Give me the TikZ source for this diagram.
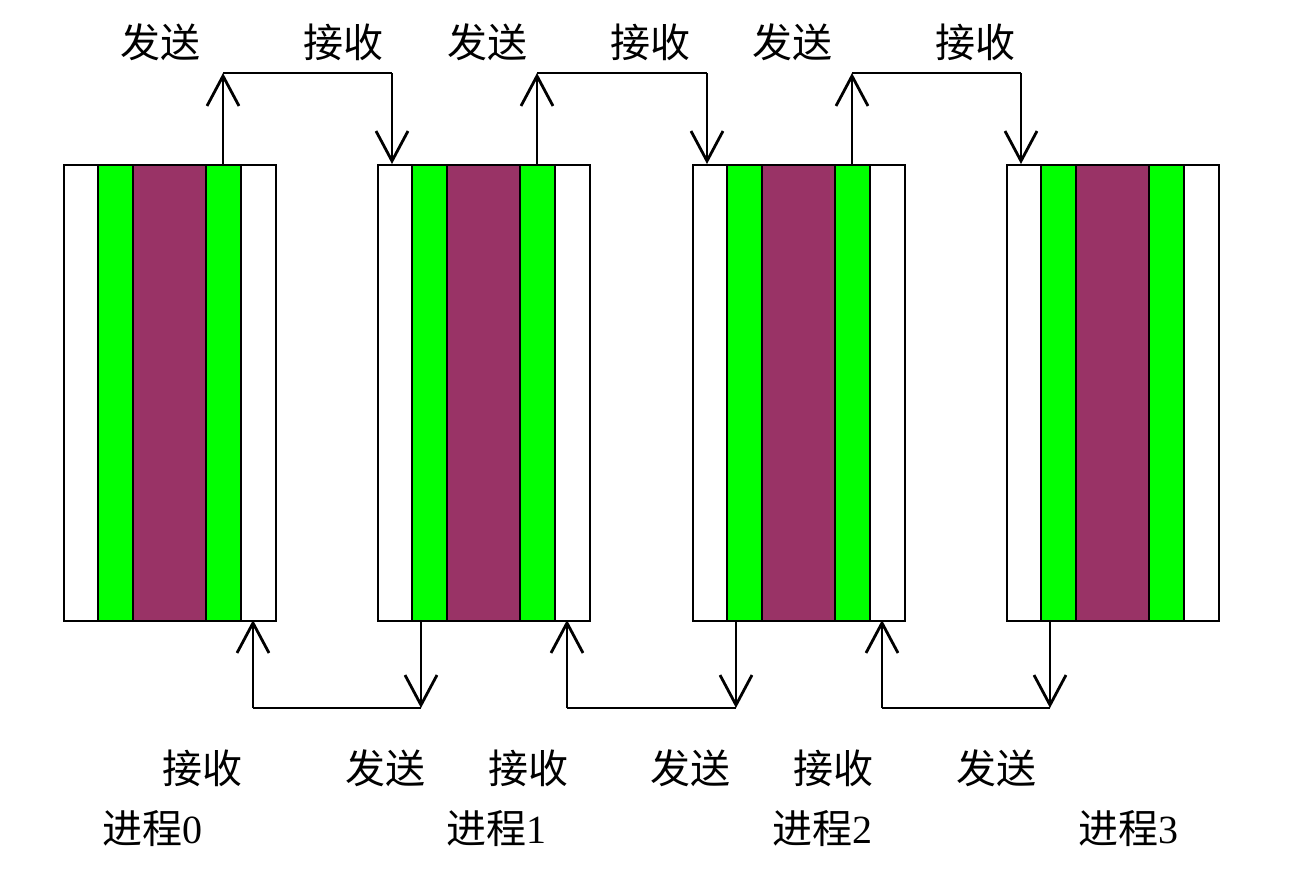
\documentclass[tikz,border=0pt]{standalone}
\usepackage{fontspec}
\setmainfont{Liberation Serif}
\newfontfamily\cjk{Noto Sans CJK SC}
\usetikzlibrary{arrows.meta}
\definecolor{colgreen}{HTML}{00FF00}
\definecolor{colmaroon}{HTML}{993366}
\tikzset{
  conn/.style={line width=2.8pt, black},
  arr/.style={conn, -{Straight Barb[length=30pt,width=32pt,line width=2.8pt]}},
  lbl/.style={font=\cjk\fontsize{40}{46}\selectfont, inner sep=0pt},
  boxline/.style={line width=2.4pt, black}
}
\begin{document}
\begin{tikzpicture}[x=1pt,y=-1pt]
\useasboundingbox (0,0) rectangle (1299,881);
\fill[white] (0,0) rectangle (1299,881);
% boxes
\foreach \L [count=\i from 0] in {63,377,692,1006} {
  \fill[colgreen] (\L+35,164) rectangle (\L+70,620);
  \fill[colmaroon] (\L+70,164) rectangle (\L+143,620);
  \fill[colgreen] (\L+143,164) rectangle (\L+178,620);
  \node[boxline, draw, rectangle, minimum width=212pt, minimum height=456pt, inner sep=0pt, anchor=north west] (p\i) at (\L,164) {};
  \foreach \o in {35,70,143,178} { \draw[boxline] (\L+\o,164) -- (\L+\o,620); }
  \coordinate (ts\i) at (\L+160,164);
  \coordinate (tr\i) at (\L+15,164);
  \coordinate (bs\i) at (\L+190,620);
  \coordinate (br\i) at (\L+44,620);
}
% top connectors
\foreach \a/\b in {0/1,1/2,2/3} {
  \coordinate (tc\a) at ([yshift=91pt]ts\a);
  \coordinate (td\a) at ([yshift=91pt]tr\b);
  \draw[arr] (ts\a) -- (tc\a);
  \draw[conn] (tc\a) -- (td\a);
  \draw[arr] (td\a) -- (tr\b);
}
% bottom connectors
\foreach \a/\b in {0/1,1/2,2/3} {
  \coordinate (bc\a) at ([yshift=-88pt]bs\a);
  \coordinate (bd\a) at ([yshift=-88pt]br\b);
  \draw[arr] (bc\a) -- (bs\a);
  \draw[conn] (bc\a) -- (bd\a);
  \draw[arr] (br\b) -- (bd\a);
}
% labels top
\node[lbl] (l1) at (160,42) {发送};
\node[lbl] (l2) at (343,42) {接收};
\node[lbl] (l3) at (487,42) {发送};
\node[lbl] (l4) at (650,42) {接收};
\node[lbl] (l5) at (792,42) {发送};
\node[lbl] (l6) at (975,42) {接收};
% labels bottom
\node[lbl] (m1) at (202,768) {接收};
\node[lbl] (m2) at (385,768) {发送};
\node[lbl] (m3) at (528,768) {接收};
\node[lbl] (m4) at (690,768) {发送};
\node[lbl] (m5) at (833,768) {接收};
\node[lbl] (m6) at (996,768) {发送};
% process labels
\node[lbl] (n0) at (152,829) {进程{\rmfamily 0}};
\node[lbl] (n1) at (496,829) {进程{\rmfamily 1}};
\node[lbl] (n2) at (822,829) {进程{\rmfamily 2}};
\node[lbl] (n3) at (1128,829) {进程{\rmfamily 3}};
\end{tikzpicture}
\end{document}
